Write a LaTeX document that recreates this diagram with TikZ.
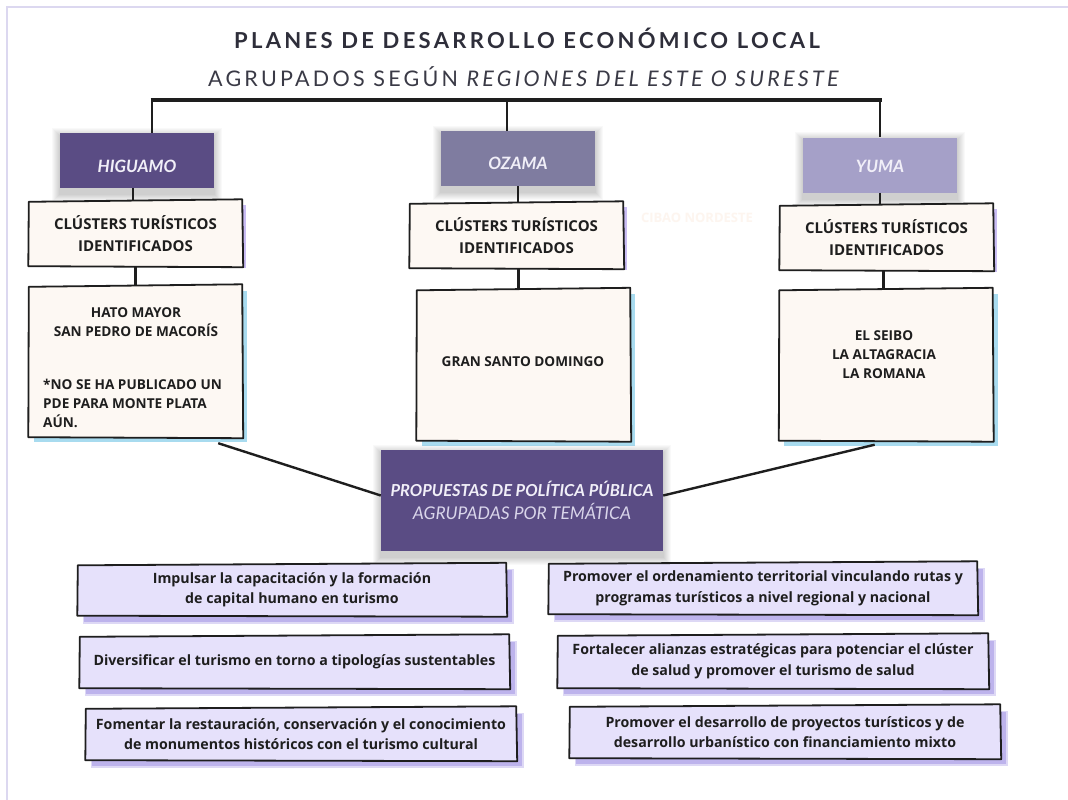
\documentclass[tikz,border=0pt]{standalone}
\usepackage{fontspec}
\setmainfont{Open Sans}
\newfontfamily\headfont[LetterSpace=15]{Lato}
\newfontfamily\subfont[LetterSpace=15]{Lato}
\newfontfamily\labfont{Lato}
\usetikzlibrary{calc}

\definecolor{ink}{HTML}{1E1E1E}
\definecolor{titlegray}{HTML}{2E2E3A}
\definecolor{subgray}{HTML}{3A3A46}
\definecolor{regionA}{HTML}{5A4C84}
\definecolor{regionB}{HTML}{7F7CA0}
\definecolor{regionC}{HTML}{A5A0C8}
\definecolor{labelwhite}{HTML}{F1EFF8}
\definecolor{cream}{HTML}{FDF8F3}
\definecolor{lavender}{HTML}{E6E1FB}
\definecolor{glowpurple}{HTML}{C9BCF3}
\definecolor{glowblue}{HTML}{A8DBEF}
\definecolor{dropviolet}{HTML}{BDB3EC}
\definecolor{framelilac}{HTML}{DCD8F0}
\definecolor{ghost}{HTML}{FDF5EF}
\definecolor{sublabel}{HTML}{D9D5EA}

\pgfdeclarelayer{paper}
\pgfdeclarelayer{shadow}
\pgfdeclarelayer{fill}
\pgfsetlayers{paper,shadow,fill,main}

% soft grey shadow around a node
\newcommand\haze[1]{%
  \begin{pgfonlayer}{shadow}
    \foreach \k in {1,...,8}{%
      \fill[black,opacity=0.024] ([shift={(-\k,-\k+3)}]#1.north west)
        rectangle ([shift={(\k,\k+6)}]#1.south east);}
  \end{pgfonlayer}}

% hand-drawn outline with a fill
\newcommand\roughbox[2]{%
  \begin{pgfonlayer}{fill}
    \filldraw[fill=#2, draw=ink, line width=1.8pt, line join=round]
      ([shift={(0,1)}]#1.north west) -- ([shift={(0,-1.5)}]#1.north east)
      -- ([shift={(1,1)}]#1.south east) -- ([shift={(-0.5,0)}]#1.south west) -- cycle;
  \end{pgfonlayer}}

% coloured glow along the right edge
\newcommand\sideglow[2]{%
  \begin{pgfonlayer}{shadow}
    \fill[#2] ([shift={(0,4)}]#1.north east) rectangle ([shift={(4,2)}]#1.south east);
  \end{pgfonlayer}}

% coloured glow along the right and bottom edges
\newcommand\cornerglow[2]{%
  \begin{pgfonlayer}{shadow}
    \fill[#2] ([shift={(0,5)}]#1.north east) rectangle ([shift={(5,5)}]#1.south east);
    \fill[#2] ([shift={(5,0)}]#1.south west) rectangle ([shift={(5,5)}]#1.south east);
  \end{pgfonlayer}}

% offset drop shadow
\newcommand\offshadow[2]{%
  \begin{pgfonlayer}{shadow}
    \fill[#2,opacity=0.5] ([shift={(5,5)}]#1.north west) rectangle ([shift={(8,8)}]#1.south east);
    \fill[#2] ([shift={(6,6)}]#1.north west) rectangle ([shift={(6,6)}]#1.south east);
  \end{pgfonlayer}}

\tikzset{
  region/.style={inner sep=0pt, minimum width=154pt, minimum height=55pt, text depth=0pt,
    text=labelwhite, font=\labfont\bfseries\itshape\fontsize{17}{19}\selectfont},
  cluster/.style={inner sep=0pt, minimum width=213pt, minimum height=65pt, align=center,
    text=ink, font=\bfseries\fontsize{15}{22}\selectfont},
  placebox/.style={inner sep=0pt, minimum width=213pt, minimum height=151pt},
  placetext/.style={inner sep=0pt, align=center, text=ink,
    font=\bfseries\fontsize{13.6}{19}\selectfont},
  policy/.style={inner sep=0pt, minimum height=51pt, align=center, text=ink,
    font=\bfseries\fontsize{14.2}{20.5}\selectfont},
  link/.style={draw=ink, line width=2.6pt},
}

\begin{document}
\begin{tikzpicture}[x=1pt,y=-1pt]
\useasboundingbox (0,0) rectangle (1068,800);
\begin{pgfonlayer}{paper}
  \fill[white] (0,0) rectangle (1068,800);
  % page frame
  \draw[framelilac, line width=2.2pt] (7,800) -- (7,7) -- (1068,7);
\end{pgfonlayer}

% headings
\node[inner sep=0pt, text=titlegray, font=\headfont\bfseries\fontsize{22}{24}\selectfont]
  (title) at (527,38) {PLANES DE DESARROLLO ECONÓMICO LOCAL};
\node[inner sep=0pt, text=subgray, font=\subfont\fontsize{21.5}{24}\selectfont]
  (subtitle) at (525,77) {AGRUPADOS SEGÚN \textit{REGIONES DEL ESTE O SURESTE}};

% regions (labels sit a little below the box centre)
\node[region, fill=regionA, text height=23pt] (r1) at (137,160.5) {HIGUAMO};
\node[region, fill=regionB, text height=21pt] (r2) at (518,158.5) {OZAMA};
\node[region, fill=regionC, text height=14pt] (r3) at (880,165)   {YUMA};
\haze{r1}\haze{r2}\haze{r3}

% top bracket
\coordinate (barL) at (152,100);
\coordinate (barM) at (507,100);
\coordinate (barR) at (880,100);
\draw[ink, line width=3.2pt] ([xshift=-1.5pt]barL) -- ([xshift=1.5pt]barR);
\draw[link] (barL) -- (barL |- r1.north);
\draw[link] (barM) -- (barM |- r2.north);
\draw[link] (barR) -- (barR |- r3.north);

% cluster headers
\node[cluster] (c1) at (135.5,233.5) {CLÚSTERS TURÍSTICOS\\IDENTIFICADOS};
\node[cluster] (c2) at (516.5,235.5) {CLÚSTERS TURÍSTICOS\\IDENTIFICADOS};
\node[cluster] (c3) at (886.5,237.5) {CLÚSTERS TURÍSTICOS\\IDENTIFICADOS};
\foreach \n in {c1,c2,c3}{\sideglow{\n}{glowpurple}\roughbox{\n}{cream}}

\node[inner sep=0pt, text=ghost, font=\bfseries\fontsize{13}{14}\selectfont]
  (ghostlabel) at (697,218) {CIBAO NORDESTE};

\draw[link] ([xshift=-4pt]r1.south) -- ([xshift=-4pt]r1.south |- c1.north);
\draw[link] (r2.south) -- (r2.south |- c2.north);
\draw[link] (r3.south) -- (r3.south |- c3.north);

% province lists
\node[placebox] (l1) at (135.5,361.5) {};
\node[placebox] (l2) at (523.5,365)   {};
\node[placebox] (l3) at (886,365)     {};
\foreach \n in {l1,l2,l3}{\cornerglow{\n}{glowblue}\roughbox{\n}{cream}}

\node[placetext] (l1a) at (136,322) {HATO MAYOR\\SAN PEDRO DE MACORÍS};
\node[placetext, align=left, anchor=west] (l1b) at (43,403)
  {*NO SE HA PUBLICADO UN\\PDE PARA MONTE PLATA\\AÚN.};
\node[placetext] (l2a) at (523,362) {GRAN SANTO DOMINGO};
\node[placetext] (l3a) at (884,355) {EL SEIBO\\LA ALTAGRACIA\\LA ROMANA};

\draw[link] (c1.south) -- (c1.south |- l1.north);
\draw[link] ([xshift=2pt]c2.south) -- ([xshift=2pt]c2.south |- l2.north);
\draw[link] ([xshift=-3pt]c3.south) -- ([xshift=-3pt]c3.south |- l3.north);

% policy hub
\node[inner sep=0pt, minimum width=282pt, minimum height=101pt, fill=regionA, align=center,
      font=\labfont\fontsize{16.5}{23}\selectfont]
  (hub) at (522,500.5)
  {{\bfseries\itshape\color{labelwhite}PROPUESTAS DE POLÍTICA PÚBLICA}\\
   {\itshape\fontsize{17.5}{23}\selectfont\color{sublabel}AGRUPADAS POR TEMÁTICA}};
\haze{hub}

\draw[ink, line width=2.4pt] ([shift={(-24,6)}]l1.south east) -- ([yshift=5pt]hub.west);
\draw[ink, line width=2.4pt] ([shift={(-118,4)}]l3.south east) -- ([yshift=5pt]hub.east);

% policy proposals
\node[policy, minimum width=428pt] (p1) at (292,590)
  {Impulsar la capacitación y la formación\\de capital humano en turismo};
\node[policy, minimum width=429pt, minimum height=52pt] (p2) at (294.5,662)
  {Diversificar el turismo en torno a tipologías sustentables};
\node[policy, minimum width=430pt, minimum height=52pt] (p3) at (301,734)
  {Fomentar la restauración, conservación y el conocimiento\\de monumentos históricos con el turismo cultural};
\node[policy, minimum width=428pt] (p4) at (763,588.5)
  {Promover el ordenamiento territorial vinculando rutas y\\programas turísticos a nivel regional y nacional};
\node[policy, minimum width=430pt, minimum height=53pt] (p5) at (773,661.5)
  {Fortalecer alianzas estratégicas para potenciar el clúster\\de salud y promover el turismo de salud};
\node[policy, minimum width=430pt, minimum height=52pt] (p6) at (785,732)
  {Promover el desarrollo de proyectos turísticos y de\\desarrollo urbanístico con financiamiento mixto};
\foreach \n in {p1,p2,p3,p4,p5,p6}{\offshadow{\n}{dropviolet}\roughbox{\n}{lavender}}
\end{tikzpicture}
\end{document}
